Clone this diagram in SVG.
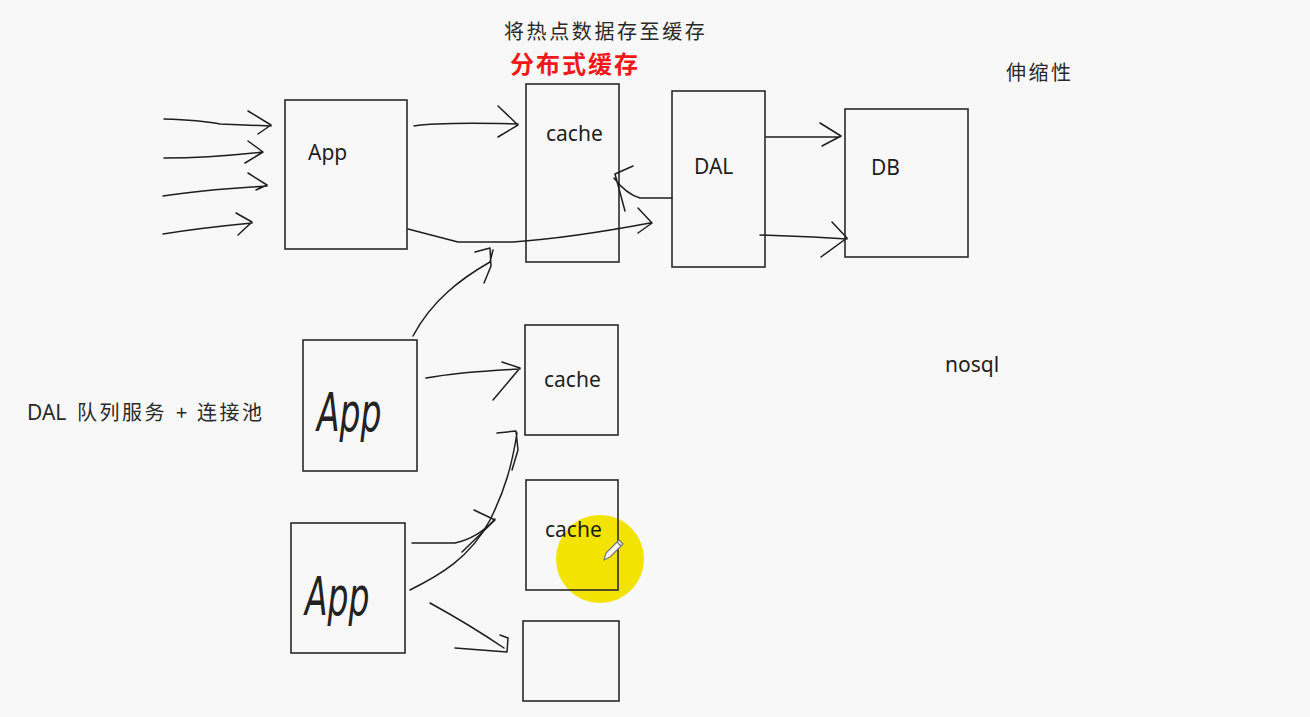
<svg xmlns="http://www.w3.org/2000/svg" width="1310" height="717" viewBox="0 0 1310 717">
<style>
.bg{fill:#f8f8f8}
.box{fill:none;stroke:#2a2a2a;stroke-width:1.6}
.t{font-family:"Noto Sans","Noto Sans CJK SC",sans-serif;font-size:21px;fill:#1e1e1e}
.cn{font-family:"Noto Sans CJK SC","Noto Sans",sans-serif;font-size:20px;fill:#2a2a2a}
.red{font-family:"Noto Sans CJK SC",sans-serif;font-size:24px;font-weight:bold;fill:#f01818;letter-spacing:2px}
.hw{font-family:"DejaVu Sans","Noto Sans",sans-serif;font-size:33px;font-style:italic;font-weight:200;fill:#222}
.ln{fill:none;stroke:#1e1e1e;stroke-width:1.5;stroke-linecap:round;stroke-linejoin:round}
</style>
<rect class="bg" x="0" y="0" width="1310" height="717"/>
<circle cx="600" cy="559" r="44" fill="#f2e400"/>
<g id="labels">
<text class="cn" x="504" y="39" letter-spacing="2.6">将热点数据存至缓存</text>
<text class="red" x="510" y="73">分布式缓存</text>
<text class="cn" x="1006" y="80" letter-spacing="2.5">伸缩性</text>
<text class="t" x="945" y="372">nosql</text>
<text class="cn" y="420"><tspan x="27" font-family="Noto Sans" font-size="21">DAL</tspan><tspan x="77" letter-spacing="2.5">队列服务</tspan><tspan x="176">+</tspan><tspan x="197" letter-spacing="2.5">连接池</tspan></text>
</g>
<g id="app1"><rect class="box" x="285" y="100" width="122" height="149"/><text class="t" x="308" y="160">App</text></g>
<g id="cache1"><rect class="box" x="526" y="84" width="93" height="178"/><text class="t" x="546" y="141">cache</text></g>
<g id="dal"><rect class="box" x="672" y="91" width="93" height="176"/><text class="t" x="694" y="174">DAL</text></g>
<g id="db"><rect class="box" x="845" y="109" width="123" height="148"/><text class="t" x="871" y="175">DB</text></g>
<g id="app2"><rect class="box" x="303" y="340" width="114" height="131"/><text class="hw" transform="translate(317,431) scale(1,1.6)">App</text></g>
<g id="cache2"><rect class="box" x="525" y="325" width="93" height="110"/><text class="t" x="544" y="387">cache</text></g>
<g id="app3"><rect class="box" x="291" y="523" width="114" height="130"/><text class="hw" transform="translate(305,615) scale(1,1.6)">App</text></g>
<g id="cache3"><rect class="box" x="526" y="480" width="92" height="110"/><text class="t" x="545" y="537">cache</text></g>
<g id="box4"><rect class="box" x="523" y="621" width="96" height="80"/></g>
<g id="cursor">
<path d="M604,560 L606,553 L619,540 L623,544 L610,557 Z" fill="#fafafa" stroke="#777" stroke-width="1.2" stroke-linejoin="round"/>
<path d="M617,542 L621,546" stroke="#777" stroke-width="1.2"/>
</g>
<g id="connectors">
<path class="ln" d="M164,119 Q200,120 220,124 L271,126 M248,111 L271,125 L258,134"/>
<path class="ln" d="M164,158 Q210,158 263,152 M248,141 L263,152 L245,163"/>
<path class="ln" d="M163,196 Q200,190 267,186 M248,173 L267,185 L256,190"/>
<path class="ln" d="M163,234 Q200,228 252,223 M236,213 L252,222 L238,235"/>
<path class="ln" d="M414,126 Q440,122 518,124 M498,106 L518,125 L498,137"/>
<path class="ln" d="M408,229 Q435,236 458,242 L513,242 Q570,238 650,223 M638,208 L652,223 L638,233"/>
<path class="ln" d="M672,198 L640,198 Q626,194 614,178 M633,166 L615,174 L625,211"/>
<path class="ln" d="M766,137 L840,137 M820,123 L841,136 L822,146"/>
<path class="ln" d="M760,235 L813,237 L847,239 M832,222 L847,238 L821,257"/>
<path class="ln" d="M413,336 C432,300 462,278 490,262 L493,250 M475,252 L490,248 L491,266 L484,283"/>
<path class="ln" d="M426,378 Q460,372 520,369 M502,362 L520,368 L493,400"/>
<path class="ln" d="M410,590 C440,575 470,558 490,520 C505,490 512,465 517,433 M497,433 L516,431 L518,450 L512,470"/>
<path class="ln" d="M412,543 L455,543 Q478,538 495,519 M474,510 L495,520 L462,552"/>
<path class="ln" d="M430,603 Q470,625 504,648 M455,648 L507,652 L508,638 L500,635"/>
</g>
</svg>
